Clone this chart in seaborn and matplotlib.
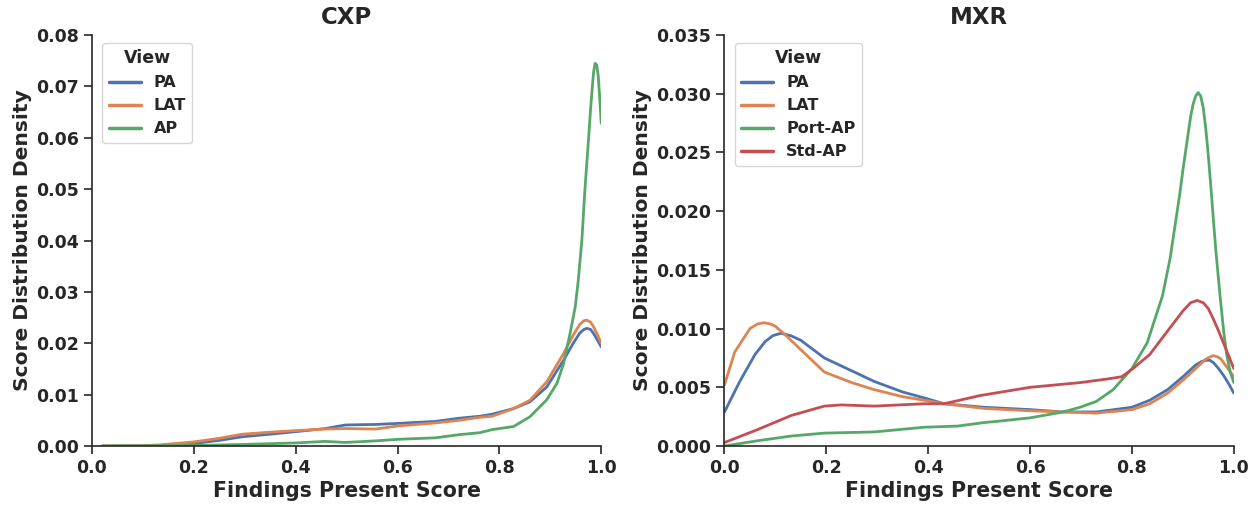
import numpy as np
import pandas as pd
import matplotlib
matplotlib.use("Agg")
import matplotlib.pyplot as plt
import seaborn as sns

# ---------------- CXP data ----------------
cxp_pa_x = [0.02, 0.10, 0.13, 0.20, 0.25, 0.295, 0.35, 0.40, 0.458, 0.498, 0.557, 0.60, 0.675, 0.72, 0.762,
            0.786, 0.828, 0.86, 0.893, 0.926, 0.945, 0.958, 0.966, 0.972, 0.979, 0.985, 0.992, 1.0]
cxp_pa_y = [0.0, 0.00005, 0.0001, 0.0005, 0.0011, 0.0018, 0.0023, 0.0028, 0.0034, 0.0041, 0.0042, 0.0044, 0.0048,
            0.0054, 0.0058, 0.0062, 0.0073, 0.0086, 0.0115, 0.0167, 0.0200, 0.0220, 0.0227, 0.0229, 0.0227,
            0.0219, 0.0207, 0.0193]
cxp_lat_x = [0.02, 0.10, 0.13, 0.20, 0.25, 0.295, 0.35, 0.40, 0.458, 0.498, 0.557, 0.60, 0.675, 0.72, 0.762,
             0.786, 0.828, 0.86, 0.893, 0.926, 0.945, 0.958, 0.966, 0.972, 0.979, 0.985, 0.992, 1.0]
cxp_lat_y = [0.0, 0.0001, 0.0002, 0.0008, 0.0015, 0.0023, 0.0027, 0.0030, 0.0033, 0.0034, 0.0033, 0.0039, 0.0045,
             0.0050, 0.0056, 0.0058, 0.0073, 0.0089, 0.0125, 0.0180, 0.0216, 0.0237, 0.0244, 0.0245, 0.0241,
             0.0232, 0.0218, 0.0200]
cxp_ap_x = [0.02, 0.20, 0.295, 0.40, 0.458, 0.498, 0.557, 0.60, 0.675, 0.72, 0.762, 0.786, 0.828, 0.86, 0.893,
            0.913, 0.926, 0.939, 0.949, 0.955, 0.962, 0.968, 0.975, 0.979, 0.982, 0.985, 0.988, 0.991, 0.994,
            0.997, 1.0]
cxp_ap_y = [0.0, 0.0001, 0.0003, 0.0006, 0.0009, 0.0007, 0.0010, 0.0013, 0.0016, 0.0022, 0.0026, 0.0032, 0.0038,
            0.0057, 0.0090, 0.0122, 0.0160, 0.0220, 0.0271, 0.0323, 0.0401, 0.0500, 0.0596, 0.0655, 0.0693,
            0.0728, 0.0745, 0.0742, 0.0722, 0.0678, 0.0628]

# ---------------- MXR data ----------------
mxr_pa_x = [0.0, 0.03, 0.06, 0.08, 0.095, 0.111, 0.13, 0.15, 0.196, 0.25, 0.294, 0.35, 0.392, 0.431, 0.51,
            0.60, 0.665, 0.73, 0.80, 0.835, 0.87, 0.90, 0.925, 0.937, 0.945, 0.953, 0.96, 0.97, 0.98, 0.99, 1.0]
mxr_pa_y = [0.0029, 0.0055, 0.0078, 0.0089, 0.0094, 0.0096, 0.0094, 0.0090, 0.0075, 0.0064, 0.0055, 0.0046,
            0.0041, 0.0036, 0.0033, 0.0031, 0.0029, 0.0029, 0.0033, 0.0039, 0.0048, 0.0059, 0.0069, 0.0072,
            0.0073, 0.0073, 0.0071, 0.0066, 0.0060, 0.0053, 0.0045]
mxr_lat_x = [0.0, 0.02, 0.05, 0.065, 0.078, 0.09, 0.10, 0.121, 0.15, 0.196, 0.25, 0.294, 0.35, 0.392, 0.431,
             0.51, 0.60, 0.665, 0.73, 0.80, 0.835, 0.87, 0.90, 0.93, 0.945, 0.959, 0.968, 0.975, 0.985, 1.0]
mxr_lat_y = [0.0052, 0.0080, 0.0100, 0.0104, 0.0105, 0.0104, 0.0102, 0.0094, 0.0082, 0.0063, 0.0054, 0.0048,
             0.0042, 0.0039, 0.0036, 0.0032, 0.0030, 0.0029, 0.0028, 0.0031, 0.0036, 0.0045, 0.0056, 0.0068,
             0.0074, 0.0077, 0.0076, 0.0074, 0.0068, 0.0059]
mxr_port_x = [0.0, 0.065, 0.131, 0.196, 0.294, 0.392, 0.458, 0.51, 0.535, 0.60, 0.665, 0.698, 0.73, 0.763,
              0.80, 0.83, 0.86, 0.875, 0.894, 0.90, 0.91, 0.915, 0.92, 0.925, 0.93, 0.935, 0.94, 0.945, 0.95,
              0.956, 0.96, 0.965, 0.9725, 0.98, 0.986, 0.993, 1.0]
mxr_port_y = [0.0, 0.00045, 0.00085, 0.0011, 0.0012, 0.0016, 0.0017, 0.0020, 0.0021, 0.0024, 0.0029, 0.0033,
              0.0038, 0.0048, 0.0066, 0.0088, 0.0128, 0.0160, 0.0215, 0.0235, 0.0265, 0.0280, 0.0291, 0.0298,
              0.0301, 0.0298, 0.0288, 0.0270, 0.0247, 0.0215, 0.0192, 0.0165, 0.0130, 0.0098, 0.0078, 0.0063,
              0.0054]
mxr_std_x = [0.0, 0.065, 0.131, 0.196, 0.23, 0.294, 0.392, 0.431, 0.502, 0.60, 0.698, 0.75, 0.78, 0.802,
             0.835, 0.87, 0.90, 0.915, 0.928, 0.94, 0.95, 0.96, 0.97, 0.985, 1.0]
mxr_std_y = [0.0003, 0.0014, 0.0026, 0.0034, 0.0035, 0.0034, 0.0036, 0.0036, 0.0043, 0.0050, 0.0054, 0.0057,
             0.0059, 0.0066, 0.0078, 0.0098, 0.0115, 0.0122, 0.0124, 0.0122, 0.0117, 0.0108, 0.0098, 0.0082,
             0.0066]

cxp_views = ["PA", "LAT", "AP"]
mxr_views = ["PA", "LAT", "Port-AP", "Std-AP"]

cxp_series = {"PA": (cxp_pa_x, cxp_pa_y), "LAT": (cxp_lat_x, cxp_lat_y), "AP": (cxp_ap_x, cxp_ap_y)}
mxr_series = {"PA": (mxr_pa_x, mxr_pa_y), "LAT": (mxr_lat_x, mxr_lat_y),
              "Port-AP": (mxr_port_x, mxr_port_y), "Std-AP": (mxr_std_x, mxr_std_y)}


def to_df(series, order):
    rows = []
    for v in order:
        xs, ys = series[v]
        rows.append(pd.DataFrame({"score": xs, "density": ys, "View": v}))
    return pd.concat(rows, ignore_index=True)


cxp_df = to_df(cxp_series, cxp_views)
mxr_df = to_df(mxr_series, mxr_views)

sns.set_theme(style="ticks")
plt.rcParams["font.family"] = ["DejaVu Sans"]
plt.rcParams["font.weight"] = "bold"
plt.rcParams["axes.labelweight"] = "bold"
plt.rcParams["axes.titleweight"] = "bold"
plt.rcParams["lines.solid_joinstyle"] = "round"

deep = sns.color_palette("deep")
pal = {"PA": deep[0], "LAT": deep[1], "AP": deep[2], "Port-AP": deep[2], "Std-AP": deep[3]}

fig, axes = plt.subplots(1, 2, figsize=(12.59, 5.08), dpi=100)
fig.subplots_adjust(left=0.073, right=0.980, bottom=0.122, top=0.931, wspace=0.242)

panels = [(axes[0], cxp_df, cxp_views, "CXP", 0.08, np.arange(0, 0.0801, 0.01), "{:.2f}"),
          (axes[1], mxr_df, mxr_views, "MXR", 0.035, np.arange(0, 0.03501, 0.005), "{:.3f}")]

for ax, df, order, title, ymax, yt, fmt in panels:
    sns.lineplot(data=df, x="score", y="density", hue="View", hue_order=order, palette=pal,
                 estimator=None, sort=True, linewidth=2, ax=ax)
    ax.set_xlim(0, 1)
    ax.set_ylim(0, ymax)
    ax.set_xticks(np.arange(0, 1.01, 0.2))
    ax.set_xticklabels(["{:.1f}".format(t) for t in np.arange(0, 1.01, 0.2)], fontsize=12.5, fontweight="bold")
    ax.set_yticks(yt)
    ax.set_yticklabels([fmt.format(t) for t in yt], fontsize=12.5, fontweight="bold")
    ax.set_xlabel("Findings Present Score", fontsize=14.8, fontweight="bold", labelpad=3)
    ax.set_ylabel("Score Distribution Density", fontsize=14.6, fontweight="bold", labelpad=3)
    ax.set_title(title, fontsize=16.5, fontweight="bold", pad=8)
    ax.tick_params(length=6, width=1.2)
    for s in ("left", "bottom"):
        ax.spines[s].set_linewidth(1.2)
    sns.despine(ax=ax)
    leg = ax.legend(title="View", loc="upper left", bbox_to_anchor=(0.005, 1.0),
                    prop={"weight": "bold", "size": 11.5},
                    title_fontproperties={"weight": "bold", "size": 12.5})
    for line in leg.get_lines():
        line.set_linewidth(2.5)

fig.savefig("out.png", dpi=100)
